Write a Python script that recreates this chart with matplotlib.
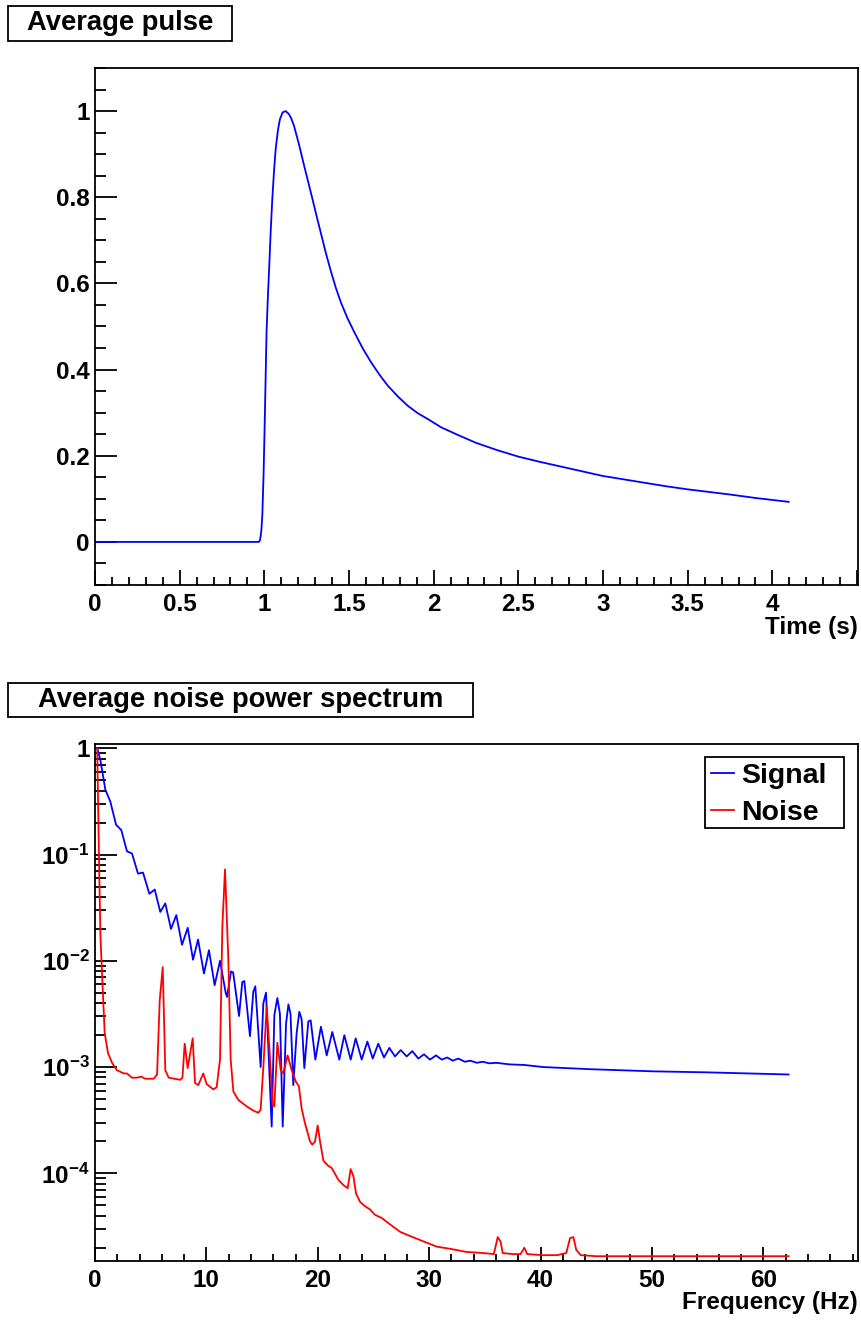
import matplotlib
matplotlib.use("Agg")
import matplotlib.pyplot as plt
import numpy as np
from matplotlib.patches import Rectangle
from matplotlib.ticker import MultipleLocator, LogLocator, FuncFormatter, NullFormatter

plt.rcParams['font.family'] = ['Liberation Sans', 'DejaVu Sans']
plt.rcParams['font.weight'] = 'bold'
plt.rcParams['mathtext.fontset'] = 'custom'
plt.rcParams['mathtext.rm'] = 'Liberation Sans:bold'
plt.rcParams['mathtext.bf'] = 'Liberation Sans:bold'
plt.rcParams['mathtext.default'] = 'rm'

# average pulse (time in s, normalised amplitude)
pulse_t = [0.0, 0.5, 0.968, 0.975, 0.982, 0.988, 0.995, 1.001, 1.007, 1.013, 1.021,
           1.029, 1.038, 1.047, 1.057, 1.067, 1.080, 1.092, 1.108, 1.126, 1.145,
           1.160, 1.175, 1.205, 1.235, 1.260, 1.284, 1.310, 1.333, 1.363, 1.393,
           1.422, 1.452, 1.490, 1.531, 1.580, 1.630, 1.680, 1.728, 1.790, 1.847,
           1.905, 1.966, 2.044, 2.15, 2.25, 2.375, 2.5, 2.625, 2.75, 2.875, 3.0,
           3.125, 3.25, 3.375, 3.5, 3.625, 3.75, 3.9, 4.096]
pulse_v = [0.0, 0.0, 0.0, 0.005, 0.025, 0.061, 0.15, 0.254, 0.37, 0.487, 0.57,
           0.641, 0.725, 0.796, 0.86, 0.912, 0.955, 0.981, 0.997, 1.0, 0.993,
           0.982, 0.966, 0.922, 0.873, 0.834, 0.796, 0.754, 0.718, 0.671, 0.628,
           0.590, 0.556, 0.520, 0.487, 0.450, 0.417, 0.388, 0.363, 0.337, 0.316,
           0.299, 0.285, 0.266, 0.247, 0.230, 0.213, 0.198, 0.186, 0.175, 0.164, 0.153,
           0.145, 0.137, 0.129, 0.122, 0.116, 0.110, 0.102, 0.093]

# signal power spectrum (Hz, log10 of normalised power)
sig_f = [0.2, 0.48, 0.93, 1.37, 1.89, 2.36, 2.87, 3.32, 3.86, 4.31, 4.88, 5.36, 5.86,
         6.31, 6.82, 7.30, 7.81, 8.32, 8.80, 9.25, 9.78, 10.23, 10.74, 11.22, 11.73,
         11.85, 12.21, 12.40, 12.93, 13.22, 13.40, 13.91, 14.21, 14.39, 14.87, 15.11,
         15.35, 15.86, 16.10, 16.37, 16.60, 16.85, 17.15, 17.36, 17.55, 17.80, 18.10,
         18.34, 18.55, 18.79, 19.15, 19.36, 19.78, 20.28, 20.80, 21.30, 21.93, 22.38,
         22.95, 23.40, 23.94, 24.45, 24.93, 25.43, 25.94, 26.42, 26.93, 27.44, 27.98,
         28.48, 29.02, 29.53, 30.07, 30.61, 31.12, 31.62, 32.11, 32.61, 33.2, 33.7,
         34.26, 34.8, 35.4, 36.0, 37.25, 38.5, 40.24, 44.43, 50.0, 55.0, 62.26]
sig_lp = [0.0, -0.11, -0.39, -0.50, -0.72, -0.77, -0.97, -0.99, -1.18, -1.17, -1.37,
          -1.33, -1.54, -1.46, -1.70, -1.57, -1.85, -1.69, -1.99, -1.80, -2.12, -1.90,
          -2.23, -2.00, -2.30, -2.34, -2.10, -2.11, -2.52, -2.20, -2.19, -2.71, -2.29,
          -2.24, -3.00, -2.40, -2.30, -3.56, -2.51, -2.35, -2.50, -3.56, -2.59, -2.41,
          -2.50, -3.17, -2.68, -2.48, -2.55, -3.01, -2.57, -2.56, -2.93, -2.62, -2.89,
          -2.67, -2.93, -2.70, -2.93, -2.73, -2.93, -2.76, -2.92, -2.78, -2.91, -2.82,
          -2.90, -2.84, -2.90, -2.85, -2.92, -2.88, -2.93, -2.89, -2.93, -2.91, -2.94,
          -2.92, -2.95, -2.94, -2.96, -2.95, -2.965, -2.96, -2.975, -2.98, -3.00, -3.02,
          -3.04, -3.05, -3.07]

# noise power spectrum (Hz, log10 of normalised power)
noi_f = [0.2, 0.33, 0.48, 0.63, 0.87, 1.17, 1.53, 1.97, 2.58, 2.87, 3.32, 3.77, 4.16,
         4.5, 5.27, 5.57, 5.81, 6.08, 6.31, 6.61, 7.66, 7.85, 8.05, 8.32, 8.77, 8.98,
         9.27, 9.72, 10.02, 10.62, 10.92, 11.22, 11.43, 11.67, 11.97, 12.18, 12.42,
         12.87, 13.62, 14.21, 14.66, 14.87, 15.11, 15.41, 15.7, 15.95, 16.1, 16.37,
         16.67, 16.9, 17.29, 17.66, 18.04, 18.3, 18.55, 18.85, 19.30, 19.5, 19.75,
         19.99, 20.2, 20.5, 20.94, 21.25, 21.84, 22.29, 22.68, 22.95, 23.2, 23.43,
         23.8, 24.24, 24.69, 25.13, 25.73, 26.48, 27.38, 28.28, 29.47, 30.67, 31.87,
         33.36, 34.86, 35.8, 36.15, 36.4, 36.6, 37.5, 38.2, 38.54, 38.8, 40.2, 41.5,
         42.3, 42.64, 42.94, 43.2, 43.6, 45.0, 50.0, 55.0, 62.26]
noi_lp = [0.0, -0.86, -1.74, -2.12, -2.68, -2.87, -2.96, -3.03, -3.06, -3.06, -3.10,
          -3.10, -3.09, -3.11, -3.11, -3.07, -2.37, -2.06, -3.03, -3.10, -3.12, -3.10,
          -2.78, -3.01, -2.73, -3.15, -3.17, -3.06, -3.16, -3.21, -3.19, -2.93, -1.68,
          -1.14, -1.99, -2.93, -3.23, -3.31, -3.37, -3.41, -3.43, -3.40, -3.00, -2.43,
          -2.90, -3.36, -3.37, -2.77, -3.03, -3.06, -2.89, -3.03, -3.14, -3.18, -3.39,
          -3.53, -3.70, -3.73, -3.70, -3.55, -3.70, -3.88, -3.93, -3.95, -4.06, -4.11,
          -4.14, -3.96, -4.03, -4.19, -4.27, -4.31, -4.34, -4.39, -4.42, -4.48, -4.55,
          -4.59, -4.64, -4.69, -4.71, -4.74, -4.75, -4.76, -4.60, -4.64, -4.75, -4.76,
          -4.76, -4.70, -4.76, -4.77, -4.77, -4.75, -4.61, -4.60, -4.72, -4.77, -4.78,
          -4.78, -4.78, -4.78]

W, H = 861, 1320
fig = plt.figure(figsize=(W / 100, H / 100), dpi=100)

def fx(x):
    return x / W

def fy(y):
    return 1 - y / H

def style_axes(ax, xmaj, ymaj):
    for s in ax.spines.values():
        s.set_linewidth(1.3)
    ax.tick_params(axis='x', which='major', direction='in', length=xmaj, width=1.3,
                   labelsize=17.5, pad=6)
    ax.tick_params(axis='x', which='minor', direction='in', length=xmaj / 2, width=1.3)
    ax.tick_params(axis='y', which='major', direction='in', length=ymaj, width=1.3,
                   labelsize=17.5, pad=4)
    ax.tick_params(axis='y', which='minor', direction='in', length=ymaj / 2, width=1.3)
    ax.tick_params(top=False, right=False, which='both')

def title_box(x0, y0, x1, y1, text):
    fig.add_artist(Rectangle((fx(x0), fy(y1)), fx(x1) - fx(x0), fy(y0) - fy(y1),
                             transform=fig.transFigure, fill=False, lw=1.3, ec='black'))
    fig.text(fx((x0 + x1) / 2), fy((y0 + y1) / 2), text, ha='center', va='center',
             fontsize=19.7, fontweight='bold')

# ---- top: average pulse
ax1 = fig.add_axes([fx(95), fy(585), fx(858) - fx(95), fy(68) - fy(585)])
ax1.plot(pulse_t, pulse_v, color='blue', lw=1.3)
ax1.set_xlim(0, 4.5056)
ax1.set_ylim(-0.1, 1.1)
ax1.xaxis.set_major_locator(MultipleLocator(0.5))
ax1.xaxis.set_minor_locator(MultipleLocator(0.1))
ax1.yaxis.set_major_locator(MultipleLocator(0.2))
ax1.yaxis.set_minor_locator(MultipleLocator(0.05))
ax1.xaxis.set_major_formatter(FuncFormatter(lambda v, p: '%g' % round(v, 3) if v < 4.3 else ''))
ax1.yaxis.set_major_formatter(FuncFormatter(lambda v, p: '%g' % round(v, 3)))
style_axes(ax1, 11, 16)
ax1.text(1.0, -0.083, 'Time (s)', transform=ax1.transAxes, ha='right', va='center',
         fontsize=17.5, fontweight='bold')
title_box(8, 6, 232, 41, 'Average pulse')

# ---- bottom: power spectra
ax2 = fig.add_axes([fx(95), fy(1261), fx(858) - fx(95), fy(744) - fy(1261)])
ax2.plot(sig_f, 10 ** np.array(sig_lp), color='blue', lw=1.3, label='Signal')
ax2.plot(noi_f, 10 ** np.array(noi_lp), color='red', lw=1.3, label='Noise')
ax2.set_yscale('log')
ax2.set_xlim(0, 68.49)
ax2.set_ylim(10 ** -4.825, 10 ** 0.04)
ax2.xaxis.set_major_locator(MultipleLocator(10))
ax2.xaxis.set_minor_locator(MultipleLocator(2))
ax2.yaxis.set_major_locator(LogLocator(base=10, numticks=20))
ax2.yaxis.set_minor_locator(LogLocator(base=10, subs=np.arange(2, 10), numticks=20))
ax2.yaxis.set_minor_formatter(NullFormatter())

def logfmt(v, p):
    e = int(round(np.log10(v)))
    return '1' if e == 0 else r'$10^{%d}$' % e

ax2.yaxis.set_major_formatter(FuncFormatter(logfmt))
ax2.xaxis.set_major_formatter(FuncFormatter(lambda v, p: '%g' % v))
style_axes(ax2, 10, 16)
ax2.text(1.0, -0.081, 'Frequency (Hz)', transform=ax2.transAxes, ha='right',
         va='center', fontsize=17.5, fontweight='bold')

# legend: ROOT style box drawn by hand, entries without frame
ax2.add_patch(Rectangle((0.7995, 0.8375), 0.1822, 0.1373, transform=ax2.transAxes,
                        fill=True, fc='white', ec='black', lw=1.3, zorder=4))
leg = ax2.legend(loc='upper left', bbox_to_anchor=(0.8073, 0.963), borderaxespad=0,
                 fontsize=20.5, handlelength=0.8, handletextpad=0.25, labelspacing=0.39,
                 borderpad=0, frameon=False)
leg.set_zorder(5)
title_box(8, 683, 473, 717, 'Average noise power spectrum')

fig.savefig('out.png', dpi=100)
